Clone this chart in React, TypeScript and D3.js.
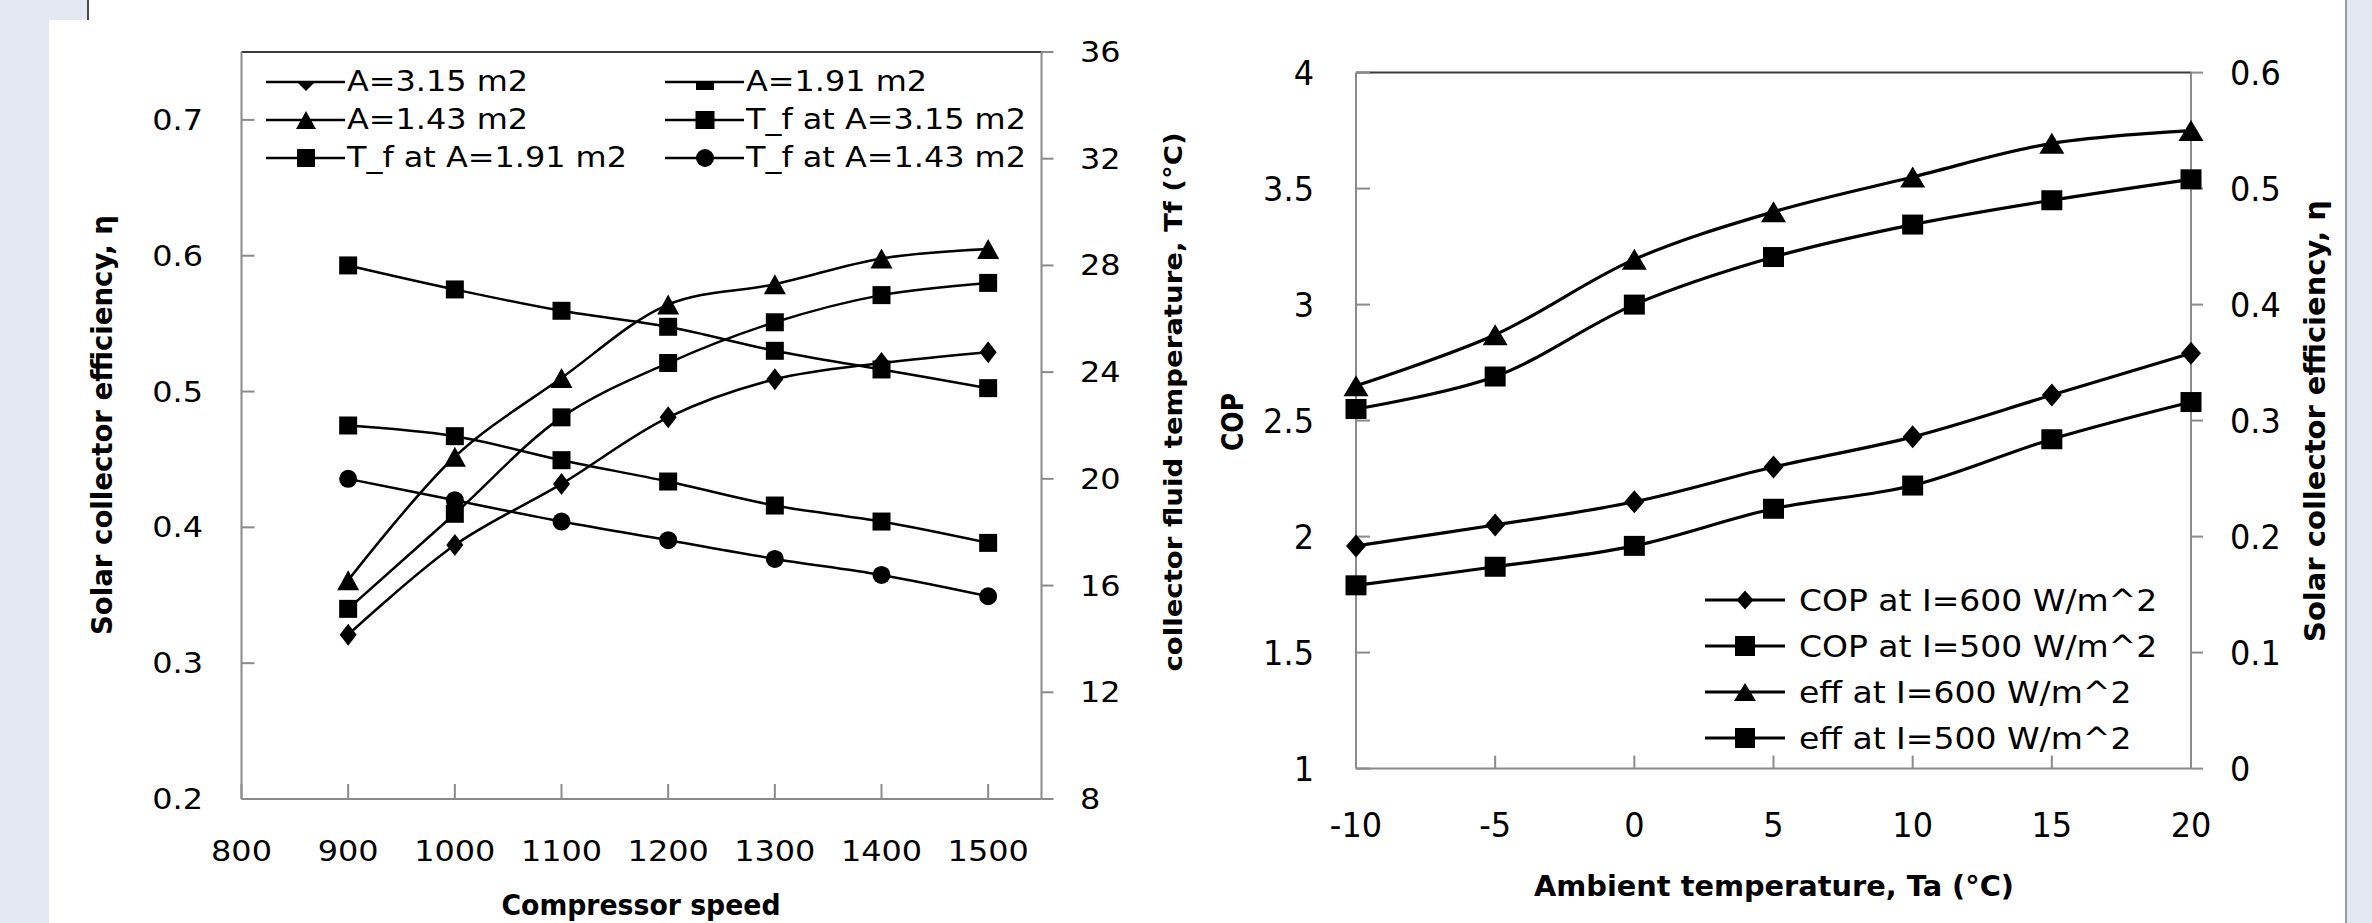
import React from 'react';
import * as d3 from 'd3';

// left chart: compressor speed vs collector efficiency / fluid temperature
const speed = [900, 1000, 1100, 1200, 1300, 1400, 1500];
const effA315 = [0.321, 0.387, 0.432, 0.481, 0.509, 0.521, 0.529];
const effA191 = [0.340, 0.410, 0.481, 0.521, 0.551, 0.571, 0.580];
const effA143 = [0.361, 0.452, 0.510, 0.564, 0.579, 0.598, 0.605];
const tfA315 = [28.0, 27.1, 26.3, 25.7, 24.8, 24.1, 23.4];
const tfA191 = [22.0, 21.6, 20.7, 19.9, 19.0, 18.4, 17.6];
const tfA143 = [20.0, 19.2, 18.4, 17.7, 17.0, 16.4, 15.6];

const speedTicks = [800, 900, 1000, 1100, 1200, 1300, 1400, 1500];
const effTicksL = [0.2, 0.3, 0.4, 0.5, 0.6, 0.7];
const tfTicks = [8, 12, 16, 20, 24, 28, 32, 36];
const leftNames = ['A=3.15 m2', 'A=1.91 m2', 'A=1.43 m2', 'T_f at A=3.15 m2', 'T_f at A=1.91 m2', 'T_f at A=1.43 m2'];

// right chart: ambient temperature vs COP / efficiency
const ambient = [-10, -5, 0, 5, 10, 15, 20];
const copI600 = [1.96, 2.05, 2.15, 2.30, 2.43, 2.61, 2.79];
const copI500 = [1.79, 1.87, 1.96, 2.12, 2.22, 2.42, 2.58];
const effI600 = [0.330, 0.374, 0.439, 0.480, 0.510, 0.539, 0.550];
const effI500 = [0.310, 0.338, 0.400, 0.441, 0.469, 0.490, 0.508];

const ambTicks = [-10, -5, 0, 5, 10, 15, 20];
const copTicks = [1, 1.5, 2, 2.5, 3, 3.5, 4];
const effTicksR = [0, 0.1, 0.2, 0.3, 0.4, 0.5, 0.6];
const rightNames = ['COP at I=600 W/m^2', 'COP at I=500 W/m^2', 'eff at I=600 W/m^2', 'eff at I=500 W/m^2'];

const FONT = 'DejaVu Sans';
const AXIS = '#8a8a8a';
const BORDER = '#3c3c3c';

const xL = d3.scaleLinear().domain([800, 1550]).range([241.5, 1041.5]);
const yEffL = d3.scaleLinear().domain([0.2, 0.75]).range([799, 52]);
const yTf = d3.scaleLinear().domain([8, 36]).range([799, 52]);

const xR = d3.scaleLinear().domain([-10, 20]).range([1356, 2191]);
const yCop = d3.scaleLinear().domain([1, 4]).range([768.6, 72.6]);
const yEffR = d3.scaleLinear().domain([0, 0.6]).range([768.6, 72.6]);

const smooth = d3.line<[number, number]>().curve(d3.curveCatmullRom.alpha(0.5));

function markerPath(kind: string, x: number, y: number, w: number, h: number) {
  switch (kind) {
    case 'diamond':
      return `M${x},${y - h / 2}L${x + w / 2},${y}L${x},${y + h / 2}L${x - w / 2},${y}Z`;
    case 'square':
      return `M${x - w / 2},${y - h / 2}h${w}v${h}h${-w}Z`;
    case 'triangle':
      return `M${x},${y - h / 2}L${x + w / 2},${y + h / 2}L${x - w / 2},${y + h / 2}Z`;
    case 'circle': {
      const r = w / 2;
      return `M${x - r},${y}a${r},${r} 0 1,0 ${2 * r},0a${r},${r} 0 1,0 ${-2 * r},0`;
    }
    case 'diamondHalf':
      return `M${x - w / 2},${y}L${x + w / 2},${y}L${x},${y + h}Z`;
    case 'squareHalf':
      return `M${x - w / 2},${y}h${w}v${h}h${-w}Z`;
  }
  return '';
}

function Txt(props: { x: number; y: number; size: number; sx?: number; anchor?: string; bold?: boolean; children: any }) {
  const { x, y, size, sx = 1, anchor = 'start', bold, children } = props;
  return (
    <text
      transform={`translate(${x},${y}) scale(${sx},1)`}
      textAnchor={anchor}
      fontSize={size}
      fontFamily={FONT}
      fontWeight={bold ? 'bold' : 'normal'}
      fill="#000"
    >
      {children}
    </text>
  );
}

// title squeezed to a measured length; rotated reads bottom to top
function Title(props: { x: number; y: number; len: number; size: number; rotate?: boolean; children: any }) {
  const { x, y, len, size, rotate, children } = props;
  return (
    <text
      transform={rotate ? `translate(${x},${y}) rotate(-90)` : `translate(${x},${y})`}
      x={-len / 2}
      textLength={len}
      lengthAdjust="spacingAndGlyphs"
      fontSize={size}
      fontFamily={FONT}
      fontWeight="bold"
      fill="#000"
    >
      {children}
    </text>
  );
}

type Series = { xs: number[]; ys: number[]; sx: (v: number) => number; sy: (v: number) => number; kind: string; w: number; h: number; lw: number };

function Curve({ s }: { s: Series }) {
  const pts: [number, number][] = s.xs.map((v, i) => [s.sx(v), s.sy(s.ys[i])]);
  return (
    <g>
      <path d={smooth(pts) || ''} fill="none" stroke="#000" strokeWidth={s.lw} />
      {pts.map((p, i) => (
        <path key={i} d={markerPath(s.kind, p[0], p[1], s.w, s.h)} fill="#000" />
      ))}
    </g>
  );
}

export default function App() {
  const leftSeries: Series[] = [
    { xs: speed, ys: effA315, sx: xL, sy: yEffL, kind: 'diamond', w: 17, h: 22, lw: 2.5 },
    { xs: speed, ys: effA191, sx: xL, sy: yEffL, kind: 'square', w: 18, h: 18, lw: 2.5 },
    { xs: speed, ys: effA143, sx: xL, sy: yEffL, kind: 'triangle', w: 22, h: 20, lw: 2.5 },
    { xs: speed, ys: tfA315, sx: xL, sy: yTf, kind: 'square', w: 18, h: 18, lw: 2.5 },
    { xs: speed, ys: tfA191, sx: xL, sy: yTf, kind: 'square', w: 18, h: 18, lw: 2.5 },
    { xs: speed, ys: tfA143, sx: xL, sy: yTf, kind: 'circle', w: 18, h: 18, lw: 2.5 },
  ];
  const rightSeries: Series[] = [
    { xs: ambient, ys: copI600, sx: xR, sy: yCop, kind: 'diamond', w: 20, h: 23, lw: 3.2 },
    { xs: ambient, ys: copI500, sx: xR, sy: yCop, kind: 'square', w: 21, h: 20, lw: 3.2 },
    { xs: ambient, ys: effI600, sx: xR, sy: yEffR, kind: 'triangle', w: 25, h: 21, lw: 3.2 },
    { xs: ambient, ys: effI500, sx: xR, sy: yEffR, kind: 'square', w: 21, h: 20, lw: 3.2 },
  ];

  const leftLegendKinds = ['diamondHalf', 'squareHalf', 'triangle', 'square', 'square', 'circle'];
  const leftLegendSize = [[18, 9], [18, 8], [20, 18], [19, 18], [18, 18], [18, 18]];
  const rightLegendKinds = ['diamond', 'square', 'triangle', 'square'];
  const rightLegendSize = [[17, 19], [20, 20], [22, 18], [20, 20]];

  const [l0, l1] = xL.range();
  const [b0, t0] = yEffL.range();
  const [r0, r1] = xR.range();
  const [b1, t1] = yCop.range();

  return (
    <svg width={2372} height={923} style={{ position: 'absolute', left: 0, top: 0, display: 'block' }}>
      {/* page background */}
      <rect x={0} y={0} width={2372} height={923} fill="#e4e8f2" />
      <rect x={49} y={20} width={2296} height={903} fill="#fff" />
      <rect x={88} y={0} width={2257} height={20} fill="#fff" />
      <line x1={88} y1={0} x2={88} y2={20} stroke="#4a4a4a" strokeWidth={2} />
      <line x1={2346} y1={0} x2={2346} y2={923} stroke="#9a9ca4" strokeWidth={2} />

      {/* ---------- left chart ---------- */}
      <line x1={l0} y1={t0} x2={l1} y2={t0} stroke={BORDER} strokeWidth={2} />
      <line x1={l0} y1={t0} x2={l0} y2={b0} stroke={AXIS} strokeWidth={2} />
      <line x1={l1} y1={t0} x2={l1} y2={b0} stroke={AXIS} strokeWidth={2} />
      <line x1={l0} y1={b0} x2={l1} y2={b0} stroke={AXIS} strokeWidth={2} />
      {effTicksL.map((v) => (
        <g key={'el' + v}>
          <line x1={l0} x2={l0 + 13} y1={yEffL(v)} y2={yEffL(v)} stroke={AXIS} strokeWidth={2} />
          <Txt x={203} y={yEffL(v) + 10} size={28} sx={1.14} anchor="end">{String(v)}</Txt>
        </g>
      ))}
      {tfTicks.map((v) => (
        <g key={'tf' + v}>
          <line x1={l1} x2={l1 + 12} y1={yTf(v)} y2={yTf(v)} stroke={AXIS} strokeWidth={2} />
          <Txt x={1080} y={yTf(v) + 10} size={28} sx={1.14}>{String(v)}</Txt>
        </g>
      ))}
      {speedTicks.map((v) => (
        <g key={'sp' + v}>
          <line x1={xL(v)} x2={xL(v)} y1={b0} y2={b0 - 15} stroke={AXIS} strokeWidth={2} />
          <Txt x={xL(v)} y={861} size={29} sx={1.1} anchor="middle">{String(v)}</Txt>
        </g>
      ))}
      {leftSeries.map((s, i) => <Curve key={'ls' + i} s={s} />)}

      {leftNames.map((name, i) => {
        const col = i % 2;
        const row = Math.floor(i / 2);
        const x0 = col === 0 ? 266 : 665;
        const y = 82 + row * 38;
        const [w, h] = leftLegendSize[i];
        return (
          <g key={'lg' + i}>
            <line x1={x0} x2={x0 + 79} y1={y} y2={y} stroke="#000" strokeWidth={2.5} />
            <path d={markerPath(leftLegendKinds[i], x0 + 40, y, w, h)} fill="#000" />
            <Txt x={x0 + 81} y={y + 9} size={27.5} sx={1.16}>{name}</Txt>
          </g>
        );
      })}

      <Title x={112} y={425} len={420} size={27.5} rotate>Solar collector efficiency, η</Title>
      <Title x={1182} y={402} len={539} size={25} rotate>collector fluid temperature, Tf (°C)</Title>
      <Title x={641} y={915} len={279} size={29}>Compressor speed</Title>

      {/* ---------- right chart ---------- */}
      <line x1={r0} y1={t1} x2={r1} y2={t1} stroke={BORDER} strokeWidth={2} />
      <line x1={r0} y1={t1} x2={r0} y2={b1} stroke={AXIS} strokeWidth={2} />
      <line x1={r1} y1={t1} x2={r1} y2={b1} stroke={AXIS} strokeWidth={2} />
      <line x1={r0} y1={b1} x2={r1} y2={b1} stroke={AXIS} strokeWidth={2} />
      {copTicks.map((v) => (
        <g key={'cp' + v}>
          <line x1={r0} x2={r0 + 14} y1={yCop(v)} y2={yCop(v)} stroke={AXIS} strokeWidth={2} />
          <Txt x={1314} y={yCop(v) + 12} size={33} sx={0.97} anchor="end">{String(v)}</Txt>
        </g>
      ))}
      {effTicksR.map((v) => (
        <g key={'er' + v}>
          <line x1={r1} x2={r1 + 12} y1={yEffR(v)} y2={yEffR(v)} stroke={AXIS} strokeWidth={2} />
          <Txt x={2230} y={yEffR(v) + 12} size={33} sx={0.97}>{String(v)}</Txt>
        </g>
      ))}
      {ambTicks.map((v) => (
        <g key={'am' + v}>
          <line x1={xR(v)} x2={xR(v)} y1={b1} y2={b1 - 13} stroke={AXIS} strokeWidth={2} />
          <Txt x={xR(v)} y={837} size={33} sx={0.97} anchor="middle">{String(v)}</Txt>
        </g>
      ))}
      {rightSeries.map((s, i) => <Curve key={'rs' + i} s={s} />)}

      {rightNames.map((name, i) => {
        const y = 600 + i * 46;
        const [w, h] = rightLegendSize[i];
        return (
          <g key={'rg' + i}>
            <line x1={1705} x2={1785} y1={y} y2={y} stroke="#000" strokeWidth={3.2} />
            <path d={markerPath(rightLegendKinds[i], 1745, y, w, h)} fill="#000" />
            <Txt x={1799} y={y + 11} size={30} sx={1.1}>{name}</Txt>
          </g>
        );
      })}

      <Title x={1243} y={422} len={58} size={31} rotate>COP</Title>
      <Title x={2325} y={421} len={442} size={27.5} rotate>Solar collector efficiency, η</Title>
      <Title x={1774} y={896} len={480} size={29}>Ambient temperature, Ta (°C)</Title>
    </svg>
  );
}
